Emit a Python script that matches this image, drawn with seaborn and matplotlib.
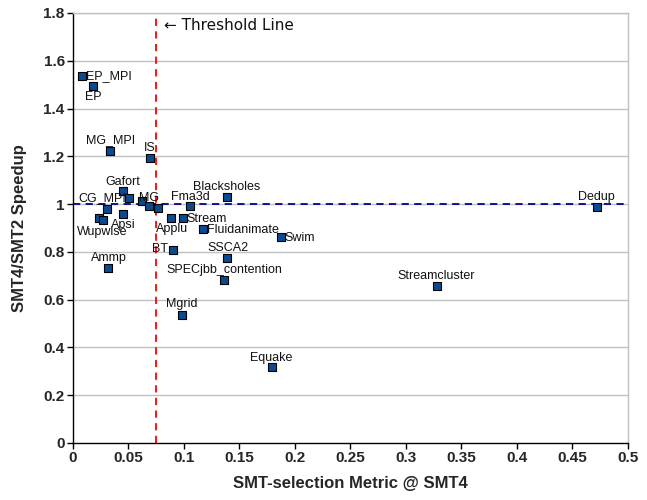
import matplotlib
matplotlib.use("Agg")
import matplotlib.pyplot as plt
import seaborn as sns
import pandas as pd

names = ["EP_MPI", "EP", "MG_MPI", "IS", "Gafort", "", "CG_MPI", "MG", "", "",
         "Blacksholes", "Fma3d", "Apsi", "", "Wupwise", "Applu", "Stream",
         "Fluidanimate", "BT", "SSCA2", "Ammp", "SPECjbb_contention", "Swim",
         "Mgrid", "Equake", "Dedup", "Streamcluster"]
metric = [0.0084, 0.0183, 0.0336, 0.0694, 0.0447, 0.0507, 0.0306, 0.0619, 0.0688, 0.0763,
          0.1385, 0.1054, 0.0450, 0.0237, 0.0273, 0.0880, 0.0990,
          0.1174, 0.0898, 0.1390, 0.0318, 0.1360, 0.1870,
          0.0982, 0.1790, 0.4718, 0.3276]
speedup = [1.536, 1.494, 1.223, 1.192, 1.056, 1.024, 0.979, 1.015, 0.992, 0.985,
           1.031, 0.992, 0.958, 0.943, 0.933, 0.943, 0.941,
           0.897, 0.810, 0.773, 0.731, 0.682, 0.861,
           0.536, 0.317, 0.989, 0.657]
threshold = 0.075
baseline = 1.0
x_ticks = [0, 0.05, 0.1, 0.15, 0.2, 0.25, 0.3, 0.35, 0.4, 0.45, 0.5]
y_ticks = [0, 0.2, 0.4, 0.6, 0.8, 1.0, 1.2, 1.4, 1.6, 1.8]

# label placement (pixel offsets, alignment)
label_pos = {
    "EP_MPI": (4, 0, "left"), "EP": (0, -11, "center"), "MG_MPI": (0, 11, "center"),
    "IS": (0, 10, "center"), "Gafort": (0, 9, "center"), "CG_MPI": (-5, 11, "center"),
    "MG": (7, 3, "center"), "Blacksholes": (0, 10, "center"), "Fma3d": (0, 9, "center"),
    "Apsi": (0, -11, "center"), "Wupwise": (-1, -12, "center"), "Applu": (1, -11, "center"),
    "Stream": (4, -1, "left"), "Fluidanimate": (4, -1, "left"), "BT": (-5, 0, "right"),
    "SSCA2": (1, 10, "center"), "Ammp": (1, 10, "center"),
    "SPECjbb_contention": (0, 10, "center"), "Swim": (4, -1, "left"),
    "Mgrid": (0, 11, "center"), "Equake": (0, 9, "center"), "Dedup": (0, 10, "center"),
    "Streamcluster": (0, 10, "center"),
}

df = pd.DataFrame({"name": names, "metric": metric, "speedup": speedup})

sns.set_theme(style="white")
plt.rcParams["font.family"] = ["Liberation Sans", "DejaVu Sans"]

fig = plt.figure(figsize=(6.47, 5.0), dpi=100)
ax = fig.add_axes([0.1128, 0.114, 0.9706 - 0.1128, 0.974 - 0.114])

for yt in y_ticks[1:]:
    ax.axhline(yt, color="#c0c0c0", lw=1, zorder=0)

ax.axhline(baseline, color="#000090", lw=1.3, ls=(0, (4, 3)), zorder=1)
ax.axvline(threshold, color="#ff0000", lw=1.3, ls=(0, (4, 3)), zorder=1)

sns.scatterplot(data=df, x="metric", y="speedup", ax=ax, marker="s", s=34,
                color="#0a4a8f", edgecolor="black", linewidth=0.8, zorder=3)

for n, xv, yv in zip(names, metric, speedup):
    if n and n in label_pos:
        dx, dy, ha = label_pos[n]
        ax.annotate(n, (xv, yv), xytext=(dx, dy), textcoords="offset pixels",
                    ha=ha, va="center", fontsize=9, color="#111111", zorder=4)

ax.annotate("\u2190 Threshold Line", (threshold, 1.8), xytext=(8, -13),
            textcoords="offset pixels", ha="left", va="center", fontsize=11,
            family=["DejaVu Sans"], color="#111111")

ax.set_xlim(0, 0.5)
ax.set_ylim(0, 1.8)
ax.set_xticks(x_ticks)
ax.set_yticks(y_ticks)
ax.set_xticklabels([f"{t:g}" for t in x_ticks], fontsize=11, fontweight="bold")
ax.set_yticklabels([f"{t:g}" for t in y_ticks], fontsize=11, fontweight="bold")
ax.tick_params(axis="both", direction="out", length=4, width=1, color="black", pad=2,
               bottom=True, left=True)
ax.set_xlabel("SMT-selection Metric @ SMT4", fontsize=12, fontweight="bold", labelpad=8)
ax.set_ylabel("SMT4/SMT2 Speedup", fontsize=12, fontweight="bold", labelpad=12)

for s in ["left", "bottom"]:
    ax.spines[s].set_color("black")
    ax.spines[s].set_linewidth(1)
for s in ["right", "top"]:
    ax.spines[s].set_color("#c0c0c0")
    ax.spines[s].set_linewidth(1)

fig.savefig("out.png", dpi=100)
